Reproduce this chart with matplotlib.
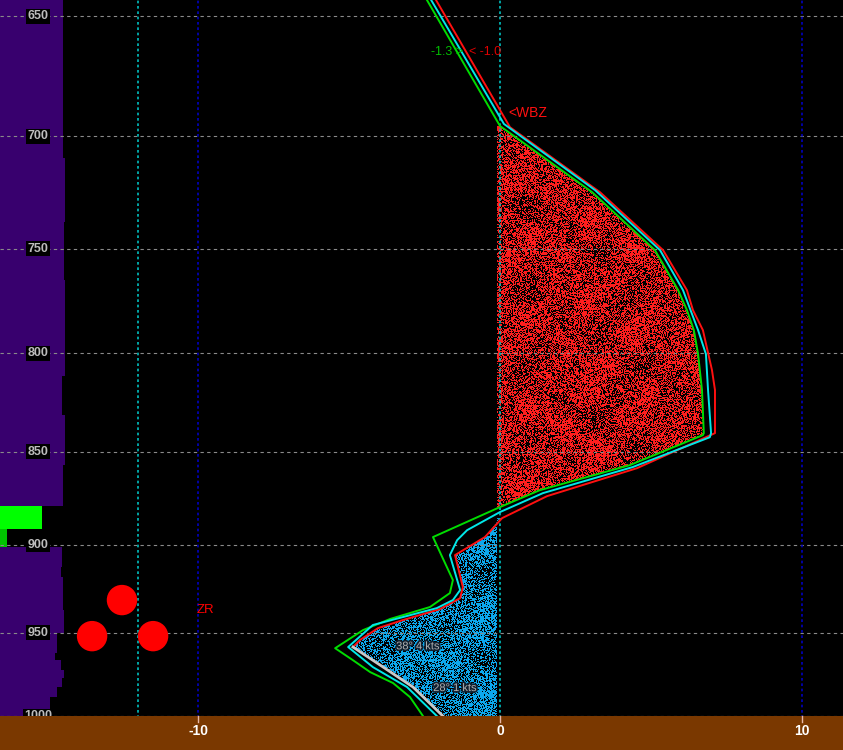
import numpy as np
import matplotlib
matplotlib.use("Agg")
import matplotlib.pyplot as plt
import matplotlib.patheffects as pe

# ---------------- data ----------------
P_TOP, P_BOT = 643.6, 1021.1
X_MIN, X_MAX = -16.56, 11.36

# temperature profile (red) : pressure hPa, temperature C
temp_p = [643.6, 696.0, 724.4, 750.7, 769.4, 778.9, 788.6, 808.2, 818.2, 840.2,
          858.5, 873.4, 885.3, 895.7, 905.7, 923.7, 930.0, 936.3, 942.6, 947.3,
          954.3, 958.4]
temp_t = [-2.12, 0.33, 3.31, 5.40, 6.19, 6.39, 6.72, 7.02, 7.12, 7.12,
          4.54, 1.56, 0.07, -0.50, -1.49, -1.23, -1.32, -1.99, -3.21, -4.04,
          -4.64, -4.87]
# near-surface temperature segment (grey)
sfc_p = [958.4, 970.3, 982.3, 1000.0]
sfc_t = [-4.87, -3.87, -2.88, -1.89]
# wet-bulb profile (cyan)
wb_p = [643.6, 694.6, 723.5, 750.7, 769.4, 788.6, 800.3, 818.2, 840.2, 842.3,
        857.9, 871.8, 882.0, 891.9, 897.4, 905.7, 925.4, 931.1, 935.7, 945.5,
        958.4, 970.3, 982.3, 1000.0]
wb_t = [-2.28, 0.13, 3.15, 5.30, 6.06, 6.56, 6.82, 6.89, 6.99, 6.95,
        4.40, 1.42, 0.0, -1.09, -1.42, -1.66, -1.32, -1.56, -2.09, -4.21,
        -5.03, -4.21, -3.08, -2.09]
# green profile
gr_p = [643.6, 695.5, 724.4, 750.7, 769.4, 778.9, 788.6, 800.3, 818.2, 840.2,
        841.2, 856.9, 870.2, 879.3, 895.7, 919.7, 927.1, 935.1, 942.0, 948.5,
        959.1, 966.2, 973.3, 979.9, 988.4, 1000.0]
gr_t = [-2.42, 0.0, 3.05, 5.13, 5.90, 6.19, 6.42, 6.56, 6.69, 6.75,
        6.72, 4.30, 1.32, 0.0, -2.22, -1.56, -1.66, -2.32, -3.64, -4.54,
        -5.46, -4.87, -4.30, -3.54, -2.98, -2.55]

# left side bars (purple), pressure edges and widths (deg); 0 = gap
bar_edges = [643.6, 709.3, 737.9, 764.7, 811.2, 830.9, 856.9, 878.8, 901.2,
             912.4, 918.0, 936.8, 950.2, 962.0, 966.2, 972.1, 976.9, 982.3,
             988.4, 1000.0]
bar_widths = [2.086, 2.152, 2.119, 2.152, 2.053, 2.152, 2.086, 0.0,
              2.053, 2.020, 2.086, 2.119, 1.887, 1.821, 2.020, 2.119, 2.053,
              1.887, 1.656]
green_edges = [878.8, 891.3, 901.2]
green_widths = [1.39, 0.23]
green_colors = ['#00ff00', '#00c400']

# precipitation type dots
dot_t = [-12.52, -13.51, -11.49]
dot_p = [931.1, 952.0, 952.0]

p_levels = [650, 700, 750, 800, 850, 900, 950, 1000]
x_ticks = [-10, 0, 10]
cyan_vlines = [-12, 0]
blue_vlines = [-10, 10]

# ---------------- figure ----------------
fig = plt.figure(figsize=(8.43, 7.5), dpi=100)
fig.patch.set_facecolor('black')
ax = fig.add_axes([0, 0, 1, 1])
ax.set_facecolor('black')
ax.set_yscale('log')
ax.set_autoscale_on(False)
ax.set_xlim(X_MIN, X_MAX)
ax.set_ylim(P_BOT, P_TOP)
for s in ax.spines.values():
    s.set_visible(False)
ax.set_xticks([])
ax.set_yticks([])
ax.yaxis.set_minor_locator(matplotlib.ticker.NullLocator())

# purple bars
for i, w in enumerate(bar_widths):
    if w > 0:
        ax.fill_betweenx([bar_edges[i], bar_edges[i + 1]], X_MIN, X_MIN + w,
                         color='#38006e', lw=0, zorder=1)
for i, w in enumerate(green_widths):
    ax.fill_betweenx([green_edges[i], green_edges[i + 1]], X_MIN, X_MIN + w,
                     color=green_colors[i], lw=0, zorder=1)

# stipple texture (deterministic integer hash pattern)
H, W = 750, 843
jj, ii = np.meshgrid(np.arange(W, dtype=np.uint64), np.arange(H, dtype=np.uint64))
hsh = (ii * np.uint64(374761393) + jj * np.uint64(668265263)) & np.uint64(0xFFFFFFFF)
hsh = ((hsh ^ (hsh >> np.uint64(13))) * np.uint64(1274126177)) & np.uint64(0xFFFFFFFF)
hsh = hsh ^ (hsh >> np.uint64(16))
noise = (hsh & np.uint64(0xFFFF)).astype(float) / 65535.0
fi, fj = ii.astype(float), jj.astype(float)
blot = (0.58 + 0.10 * np.sin(fi / 13.0 + 1.3) * np.cos(fj / 17.0)
        + 0.07 * np.sin((fi * 0.7 + fj) / 9.0) + 0.05 * np.cos((fi - fj * 0.6) / 7.0))
mask = noise < blot


def stipple(rgb, path_p, path_t):
    img = np.zeros((H, W, 4))
    img[..., 3] = 1.0
    for c in range(3):
        img[..., c] = np.where(mask, rgb[c], 0)
    poly = ax.fill_betweenx(path_p, -0.1, path_t, color='none', lw=0)
    im = ax.imshow(img, extent=[0, 1, 0, 1], transform=ax.transAxes,
                   aspect='auto', interpolation='nearest', origin='upper', zorder=2)
    im.set_clip_path(poly.get_paths()[0], transform=ax.transData)


# red region: positive area left of green line
i0, i1 = gr_p.index(695.5), gr_p.index(879.3)
stipple((1.0, 0.12, 0.12), gr_p[i0:i1 + 1], gr_t[i0:i1 + 1])
# blue region: negative temperature near surface
k = temp_p.index(895.7)
bp = [885.3] + temp_p[k:] + sfc_p[1:]
bt = [0.0] + temp_t[k:] + sfc_t[1:]
stipple((0.05, 0.66, 0.93), bp, bt)

# gridlines
for p in p_levels:
    ax.axhline(p, color='#8a8a8a', lw=0.8, ls=(0, (3, 3)), zorder=3)
for x in cyan_vlines:
    ax.axvline(x, color='#00c0c0', lw=1.2, ls=(0, (1.6, 1.6)), zorder=3)
for x in blue_vlines:
    ax.axvline(x, color='#0000c0', lw=1.2, ls=(0, (1.6, 1.6)), zorder=3)

# profile lines
ax.plot(gr_t, gr_p, color='#00dd00', lw=1.4, zorder=5)
ax.plot(temp_t, temp_p, color='#ff1010', lw=1.4, zorder=5)
ax.plot(sfc_t, sfc_p, color='#c8c8c8', lw=2.0, zorder=5)
ax.plot(wb_t, wb_p, color='#00e8e8', lw=1.4, zorder=6)

# pressure labels
for p in p_levels:
    ax.text(-15.30, p, str(p), color='#bdbdbd', fontsize=9, fontweight='bold',
            family='Liberation Sans', ha='center', va='center', zorder=7,
            bbox=dict(boxstyle='square,pad=0.12', fc='black', ec='none'))

# ground
ax.fill_between([X_MIN, X_MAX], 1000, P_BOT, color='#7a3800', lw=0, zorder=8)
for x in x_ticks:
    ax.plot([x, x], [1000, 1003.7], color='#e8b8a8', lw=1.0, zorder=9)
    ax.text(x, 1009.5, str(x), color='white', fontsize=10, fontweight='bold',
            family='Liberation Sans', ha='center', va='center', zorder=9)

# precip dots
ax.scatter(dot_t, dot_p, s=480, color='#ff0000', edgecolors='none', zorder=7)
ax.text(-9.77, 936.8, 'ZR', color='#ff0000', fontsize=9.5, ha='center', va='center',
        family='Liberation Sans', zorder=7)

# annotations
ax.text(-1.75, 664.6, '-1.3 >', color='#00c000', fontsize=9, ha='center', va='center',
        family='Liberation Sans', zorder=7)
ax.text(-0.50, 664.6, '< -1.0', color='#e00000', fontsize=9, ha='center', va='center',
        family='Liberation Sans', zorder=7)
ax.text(0.28, 690.0, '<WBZ', color='#ff1010', fontsize=10, ha='left', va='center',
        family='Liberation Sans', zorder=7)
halo = [pe.withStroke(linewidth=2.5, foreground='#102030')]
ax.text(-2.72, 958.0, '38° 4 kts', color='#b0b0b0', fontsize=8, ha='center',
        va='center', family='Liberation Sans', zorder=7, path_effects=halo)
ax.text(-1.49, 982.9, '28° 1 kts', color='#b0b0b0', fontsize=8, ha='center',
        va='center', family='Liberation Sans', zorder=7, path_effects=halo)

fig.savefig('out.png', dpi=100, facecolor='black')
